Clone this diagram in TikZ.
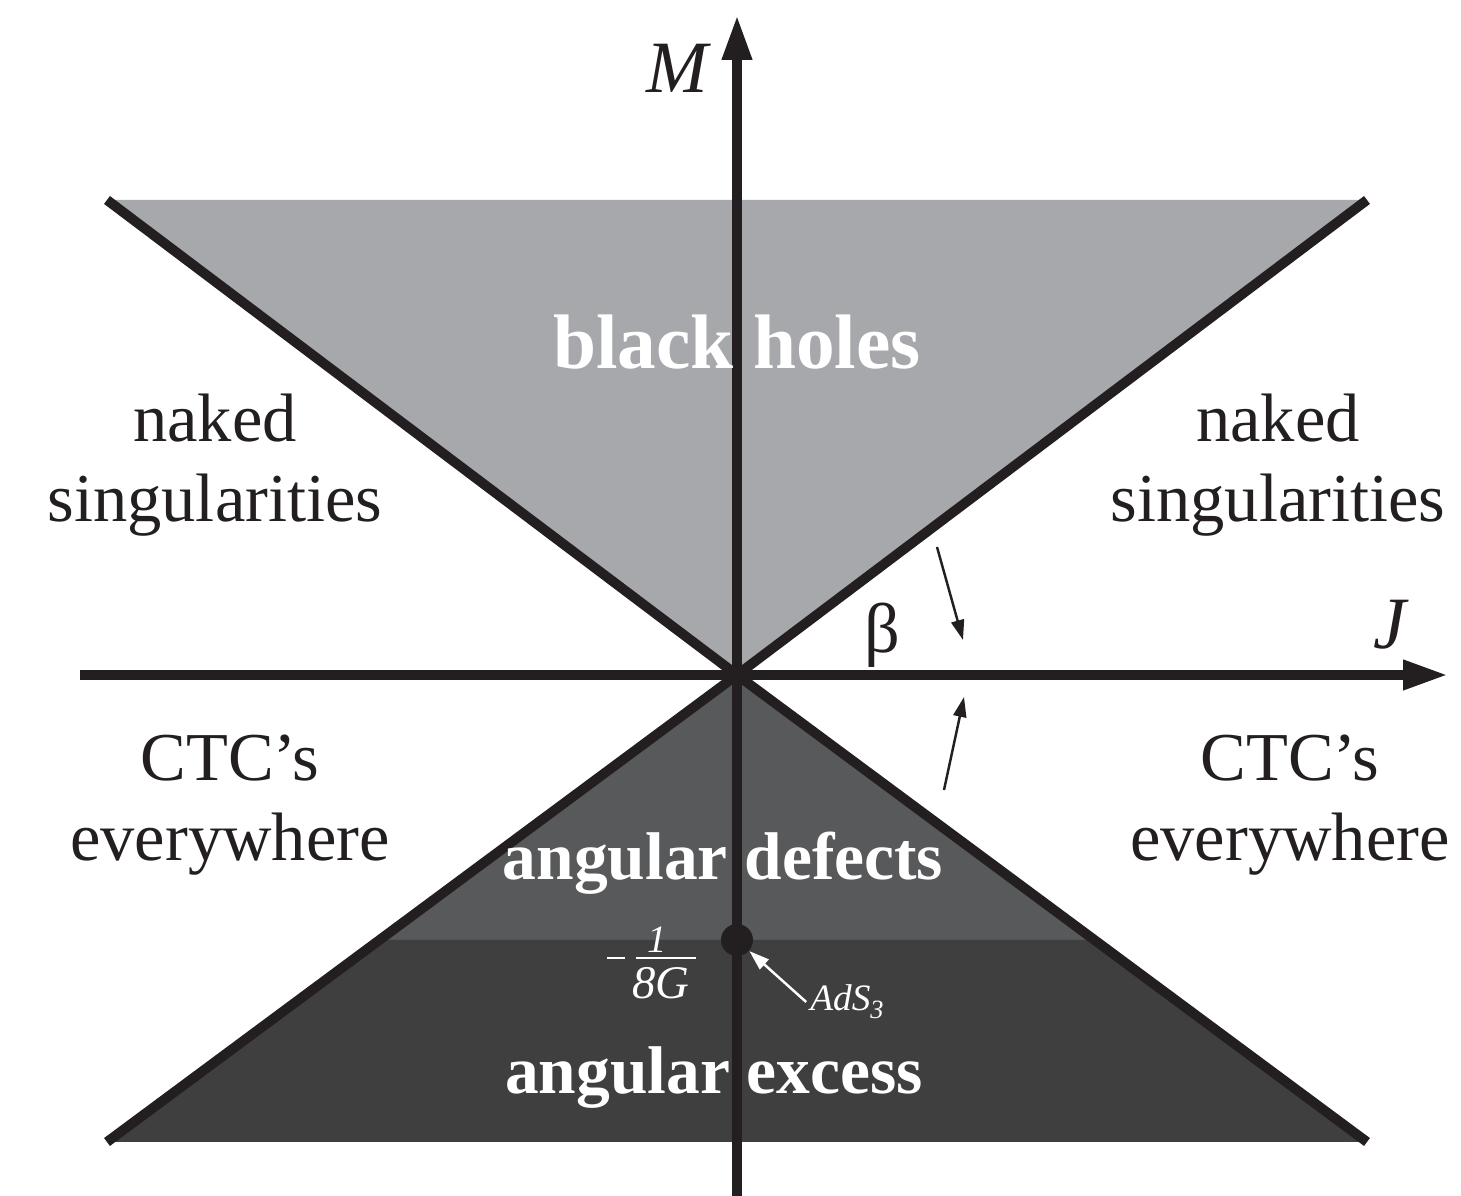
\documentclass[tikz,border=0pt]{standalone}
\usepackage{fontspec}
\setmainfont{Liberation Serif}
\usetikzlibrary{arrows.meta}
\definecolor{ink}{HTML}{231F20}
\definecolor{bhgray}{HTML}{A7A8AB}
\definecolor{defgray}{HTML}{58595B}
\definecolor{excgray}{HTML}{3F3F3F}
\tikzset{
  edgeline/.style={line width=2.8pt,color=ink},
  axisline/.style={line width=2.8pt,color=ink,-{Triangle[length=4.5mm,width=2.8mm]}},
  thinarrow/.style={line width=0.7pt,color=ink,-{Triangle[length=2mm,width=1.3mm]}},
  regiontext/.style={font=\fontsize{19.5}{22.8}\selectfont,align=center,text=ink},
  boldtext/.style={font=\fontsize{22}{26}\selectfont\bfseries,text=white},
  smallbold/.style={font=\fontsize{19.2}{22}\selectfont\bfseries,text=white}
}
\begin{document}
\begin{tikzpicture}
	  \useasboundingbox (-7.37,-5.21) rectangle (7.24,6.75);
	  \coordinate (O) at (0,0);
	  \coordinate (tl) at (-6.3,4.75);
	  \coordinate (tr) at (6.3,4.75);
	  \coordinate (bl) at (-6.3,-4.67);
	  \coordinate (br) at (6.3,-4.67);
	  \coordinate (ml) at (-3.575,-2.65);
	  \coordinate (mr) at (3.575,-2.65);
	  \fill[bhgray] (tl) -- (tr) -- (O) -- cycle;
	  \fill[defgray] (O) -- (mr) -- (ml) -- cycle;
	  \fill[excgray] (ml) -- (mr) -- (br) -- (bl) -- cycle;
	  \draw[edgeline] (tl) -- (O) -- (br);
	  \draw[edgeline] (tr) -- (O) -- (bl);
	  \coordinate (ybot) at (0,-5.21);
	  \coordinate (ytop) at (0,6.6);
	  \coordinate (xleft) at (-6.57,0);
	  \coordinate (xright) at (7.11,0);
	  \draw[axisline] (ybot) -- (ytop);
	  \draw[axisline] (xleft) -- (xright);
	  \node[font=\fontsize{21}{24}\selectfont\itshape,text=ink] (mlab) at (-0.6,6.07) {M};
	  \node[font=\fontsize{21}{24}\selectfont\itshape,text=ink] (jlab) at (6.53,0.5) {J};
	  \node[font=\fontsize{20}{24}\selectfont,text=ink] (beta) at (1.45,0.4) {β};
	  \coordinate (a1s) at (2.0,1.28);
	  \coordinate (a1e) at (2.26,0.35);
	  \coordinate (a2s) at (2.07,-1.15);
	  \coordinate (a2e) at (2.27,-0.22);
	  \draw[thinarrow] (a1s) -- (a1e);
	  \draw[thinarrow] (a2s) -- (a2e);
	  \node[boldtext] (bh) at (0,3.33) {black holes};
	  \node[smallbold] (defects) at (-0.14,-1.88) {angular defects};
	  \node[smallbold] (excess) at (-0.23,-4.03) {angular excess};
	  \node[regiontext] (nsl) at (-5.22,2.1) {naked\\singularities};
	  \node[regiontext] (nsr) at (5.41,2.1) {naked\\singularities};
	  \node[regiontext] (ctcl) at (-5.07,-1.3) {CTC’s\\everywhere};
	  \node[regiontext] (ctcr) at (5.53,-1.3) {CTC’s\\everywhere};
	  \node[circle,fill=ink,inner sep=0pt,minimum size=3.2mm] (ads) at (0,-2.65) {};
	  \node[text=white,font=\fontsize{11}{12}\selectfont\itshape,inner sep=0pt] (num) at (-0.80,-2.65) {1};
	  \node[text=white,font=\fontsize{13.3}{14}\selectfont\itshape,inner sep=0pt] (den) at (-0.76,-3.08) {8G};
	  \coordinate (barl) at (-1.01,-2.83);
	  \coordinate (barr) at (-0.41,-2.83);
	  \coordinate (minl) at (-1.30,-2.83);
	  \coordinate (minr) at (-1.12,-2.83);
	  \draw[white,line width=0.8pt] (barl) -- (barr);
	  \draw[white,line width=0.8pt] (minl) -- (minr);
	  \node[text=white,font=\fontsize{10.6}{12}\selectfont\itshape,inner sep=1pt] (adslab) at (1.1,-3.27)
	    {AdS\raisebox{-0.45ex}{\fontsize{7.5}{8}\selectfont 3}};
	  \draw[line width=0.7pt,white,-{Triangle[length=2mm,width=1.3mm]}] (adslab.west) -- (ads);
\end{tikzpicture}
\end{document}
